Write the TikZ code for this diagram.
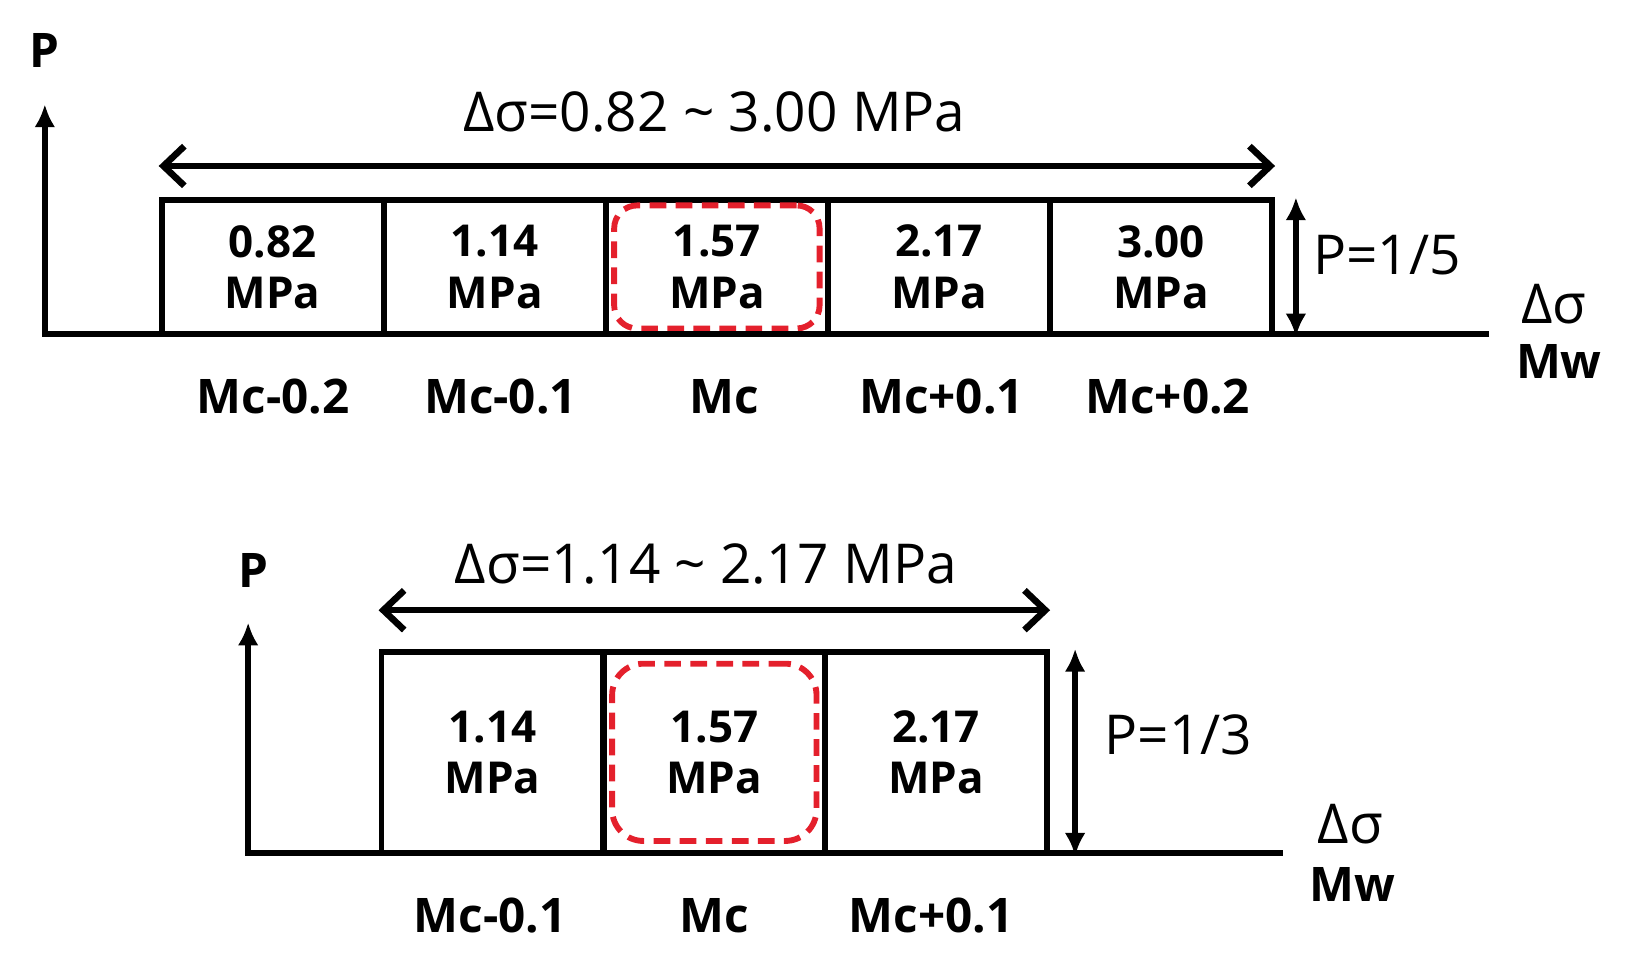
\documentclass[tikz,border=0pt]{standalone}
\usepackage{fontspec}
\setmainfont{Open Sans}
\usetikzlibrary{arrows.meta,calc}
\definecolor{selred}{RGB}{228,32,44}
\tikzset{bx/.style  = {draw, line width=1.6pt, minimum width=21.3mm, inner sep=0pt, align=center,
                       font=\bfseries\fontsize{12}{14}\selectfont},
    sel/.style  = {draw=selred, line width=1.6pt, dash pattern=on 1.6mm off 0.9mm, rounded corners=2.2mm,
                   inner sep=0pt},
    lbl/.style  = {inner sep=0pt, font=\bfseries\fontsize{13}{15}\selectfont},
    rlab/.style = {inner sep=0pt, font=\fontsize{15}{17}\selectfont},
    ax/.style   = {line width=1.6pt, -{Latex[length=2.2mm,width=2mm]}},
    rng/.style  = {line width=1.8pt, {Straight Barb[length=2mm,width=3.8mm]}-{Straight Barb[length=2mm,width=3.8mm]}},
    pa/.style   = {line width=1.5pt, {Latex[length=2.2mm,width=2mm]}-{Latex[length=2.2mm,width=2mm]}}}

\begin{document}
\begin{tikzpicture}[x=0.1mm, y=-0.1mm]
    \useasboundingbox (0,0) rectangle (1568,926);

    % upper diagram: five levels
    \foreach \i/\v/\m/\lx in {1/0.82/Mc-0.2/262, 2/1.14/Mc-0.1/480, 3/1.57/Mc/695, 4/2.17/Mc+0.1/903, 5/3.00/Mc+0.2/1120} {
        \node[bx, minimum height=12.8mm] (t\i) at ({155+213*(\i-0.5)}, 256) {\v\\MPa};
        \node[lbl] (tl\i) at (\lx, 380) {\m};
    }
    \node[sel, minimum width=19.7mm, minimum height=11.8mm] (ts) at (t3) {};

    \coordinate (tp) at (43,100);
    \coordinate (te) at (1428,320);
    \draw[ax] (te) -| (tp);
    \node[lbl] (tP) at (43,48) {P};

    \draw[rng] ($(t1.north west)+(0,-30)$) -- ($(t5.north east)+(0,-30)$);
    \node[rlab] (tr) at (685,107) {Δσ=0.82 \textasciitilde{} 3.00 MPa};

    \draw[pa] ($(t5.north east)+(20,0)$) -- ($(t5.south east)+(20,0)$);
    \node[rlab] (tq) at (1330,245) {P=1/5};
    \node[rlab] (tx) at (1490,292) {Δσ};
    \node[lbl] (tm) at (1495,347) {Mw};

    % lower diagram: three levels
    \foreach \i/\v/\m/\lx in {1/1.14/Mc-0.1/470, 2/1.57/Mc/685, 3/2.17/Mc+0.1/893} {
        \node[bx, minimum height=19.3mm] (b\i) at ({366+212.7*(\i-0.5)}, 721.5) {\v\\MPa};
        \node[lbl] (bl\i) at (\lx, 878) {\m};
    }
    \node[sel, minimum width=19.6mm, minimum height=17mm, rounded corners=3mm] (bs) at (b2) {};

    \coordinate (bp) at (238,597);
    \coordinate (be) at (1230,818);
    \draw[ax] (be) -| (bp);
    \node[lbl] (bP) at (243,547) {P};

    \draw[rng] ($(b1.north west)+(0,-37)$) -- ($(b3.north east)+(0,-37)$);
    \node[rlab] (br) at (677,541) {Δσ=1.14 \textasciitilde{} 2.17 MPa};

    \draw[pa] ($(b3.north east)+(24,0)$) -- ($(b3.south east)+(24,0)$);
    \node[rlab] (bq) at (1130,705) {P=1/3};
    \node[rlab] (bx) at (1295,790) {Δσ};
    \node[lbl] (bm) at (1297,848) {Mw};
\end{tikzpicture}
\end{document}
